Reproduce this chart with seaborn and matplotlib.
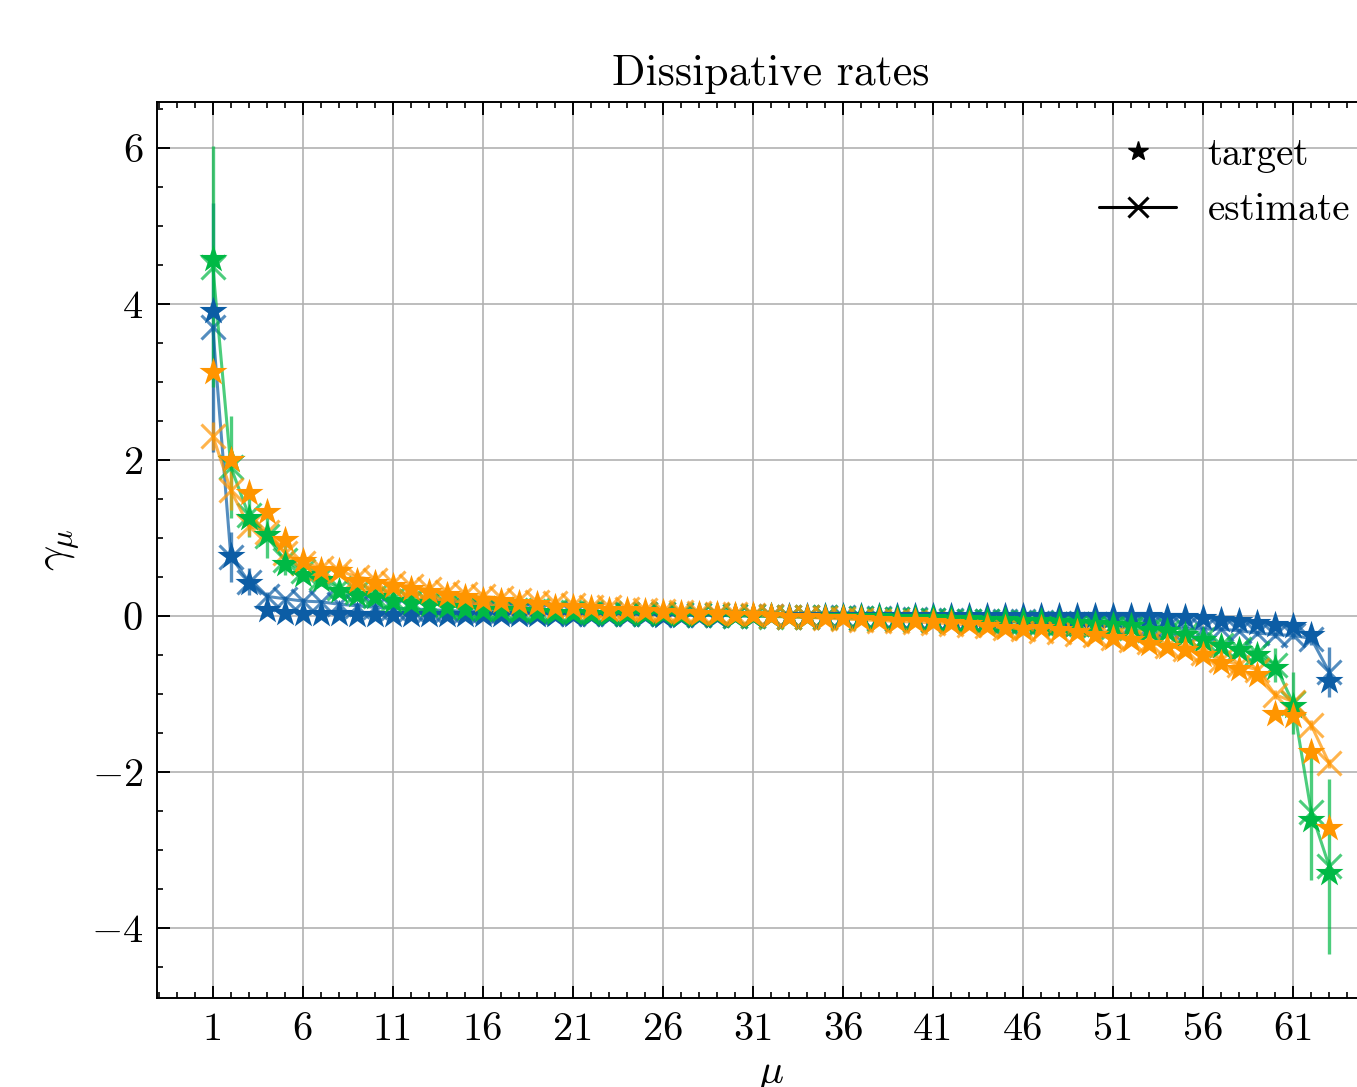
import matplotlib
matplotlib.use("Agg")
import matplotlib.pyplot as plt
import seaborn as sns
import pandas as pd
from matplotlib.lines import Line2D
from matplotlib.ticker import MultipleLocator, FixedLocator

mu = list(range(1, 64))
xtick_labels = [str(v) for v in range(1, 62, 5)]

blue_target = [3.91, 0.77, 0.42, 0.08, 0.04, 0.03, 0.02, 0.02, 0.01, 0.01,
               0.01, 0.01, 0.01, 0.01, 0.01, 0.01, 0.01, 0.01, 0.01, 0.01,
               0.01, 0.01, 0.01, 0.01, 0.01, 0.0, 0.0, 0.0, 0.0, 0.0,
               0.0, 0.0, 0.0, 0.0, 0.0, 0.0, 0.0, 0.0, 0.0, 0.0,
               0.0, 0.0, 0.0, 0.0, 0.0, 0.0, 0.0, 0.0, 0.0, 0.0,
               0.0, 0.0, 0.0, -0.01, -0.02, -0.03, -0.05, -0.07, -0.09, -0.12,
               -0.13, -0.25, -0.83]
blue_estimate = [3.70, 0.76, 0.44, 0.25, 0.22, 0.19, 0.18, 0.15, 0.13, 0.11,
                 0.10, 0.09, 0.08, 0.07, 0.06, 0.06, 0.05, 0.05, 0.04, 0.04,
                 0.03, 0.03, 0.03, 0.02, 0.02, 0.02, 0.01, 0.01, 0.01, 0.0,
                 0.0, 0.0, -0.01, -0.01, -0.02, -0.02, -0.03, -0.03, -0.04, -0.04,
                 -0.05, -0.05, -0.06, -0.06, -0.07, -0.07, -0.08, -0.09, -0.10, -0.11,
                 -0.12, -0.12, -0.13, -0.14, -0.16, -0.17, -0.17, -0.19, -0.22, -0.24,
                 -0.25, -0.29, -0.72]
blue_error = [1.6, 0.32, 0.17, 0.06, 0.04, 0.04, 0.03, 0.03, 0.03, 0.03,
              0.02, 0.02, 0.02, 0.02, 0.02, 0.02, 0.02, 0.02, 0.02, 0.02,
              0.02, 0.02, 0.02, 0.02, 0.02, 0.02, 0.02, 0.02, 0.02, 0.02,
              0.02, 0.02, 0.02, 0.02, 0.02, 0.02, 0.02, 0.02, 0.02, 0.02,
              0.02, 0.02, 0.02, 0.02, 0.02, 0.02, 0.02, 0.02, 0.02, 0.02,
              0.02, 0.02, 0.02, 0.02, 0.03, 0.03, 0.03, 0.03, 0.04, 0.04,
              0.05, 0.08, 0.32]

green_target = [4.58, 2.00, 1.26, 1.04, 0.66, 0.52, 0.46, 0.32, 0.27, 0.24,
                0.19, 0.16, 0.14, 0.11, 0.09, 0.08, 0.07, 0.06, 0.05, 0.04,
                0.04, 0.03, 0.03, 0.02, 0.02, 0.02, 0.01, 0.01, 0.01, 0.0,
                0.0, 0.0, -0.01, -0.01, -0.01, -0.02, -0.02, -0.02, -0.03, -0.03,
                -0.03, -0.04, -0.04, -0.05, -0.05, -0.06, -0.07, -0.08, -0.09, -0.10,
                -0.12, -0.13, -0.18, -0.20, -0.25, -0.31, -0.38, -0.44, -0.50, -0.67,
                -1.15, -2.62, -3.30]
green_estimate = [4.48, 1.91, 1.29, 1.02, 0.72, 0.57, 0.48, 0.36, 0.30, 0.26,
                  0.22, 0.19, 0.16, 0.14, 0.12, 0.10, 0.09, 0.08, 0.07, 0.06,
                  0.05, 0.05, 0.04, 0.03, 0.03, 0.02, 0.02, 0.01, 0.01, 0.0,
                  0.0, -0.01, -0.01, -0.02, -0.02, -0.03, -0.03, -0.04, -0.04, -0.05,
                  -0.05, -0.06, -0.06, -0.07, -0.08, -0.08, -0.09, -0.10, -0.11, -0.12,
                  -0.14, -0.16, -0.18, -0.21, -0.25, -0.30, -0.37, -0.42, -0.47, -0.63,
                  -1.12, -2.51, -3.21]
green_error = [1.55, 0.65, 0.28, 0.28, 0.20, 0.12, 0.10, 0.08, 0.06, 0.05,
               0.04, 0.04, 0.04, 0.03, 0.03, 0.03, 0.03, 0.03, 0.03, 0.03,
               0.03, 0.03, 0.03, 0.03, 0.03, 0.03, 0.03, 0.03, 0.03, 0.03,
               0.03, 0.03, 0.03, 0.03, 0.03, 0.03, 0.03, 0.03, 0.03, 0.03,
               0.03, 0.03, 0.03, 0.03, 0.03, 0.03, 0.03, 0.03, 0.03, 0.03,
               0.03, 0.04, 0.04, 0.04, 0.05, 0.05, 0.06, 0.08, 0.10, 0.22,
               0.40, 0.88, 1.12]

orange_target = [3.13, 2.00, 1.58, 1.33, 0.97, 0.71, 0.59, 0.57, 0.45, 0.42,
                 0.38, 0.34, 0.30, 0.27, 0.24, 0.21, 0.19, 0.17, 0.15, 0.12,
                 0.11, 0.10, 0.08, 0.07, 0.06, 0.05, 0.04, 0.03, 0.02, 0.01,
                 0.01, 0.0, -0.01, -0.02, -0.03, -0.03, -0.04, -0.05, -0.06, -0.07,
                 -0.08, -0.09, -0.11, -0.13, -0.15, -0.17, -0.16, -0.18, -0.21, -0.24,
                 -0.28, -0.31, -0.36, -0.40, -0.44, -0.50, -0.61, -0.68, -0.76, -1.26,
                 -1.29, -1.75, -2.72]
orange_estimate = [2.31, 1.61, 1.15, 1.08, 0.81, 0.68, 0.62, 0.58, 0.50, 0.46,
                   0.42, 0.38, 0.34, 0.31, 0.28, 0.25, 0.23, 0.20, 0.18, 0.16,
                   0.14, 0.12, 0.11, 0.09, 0.08, 0.06, 0.05, 0.04, 0.03, 0.02,
                   0.01, 0.0, -0.01, -0.02, -0.03, -0.04, -0.05, -0.06, -0.07, -0.08,
                   -0.09, -0.10, -0.12, -0.13, -0.15, -0.17, -0.19, -0.21, -0.23, -0.25,
                   -0.28, -0.31, -0.34, -0.38, -0.43, -0.48, -0.56, -0.63, -0.69, -1.01,
                   -1.10, -1.40, -1.89]
orange_error = [0.18, 0.25, 0.12, 0.10, 0.08, 0.06, 0.05, 0.05, 0.04, 0.04,
                0.04, 0.04, 0.03, 0.03, 0.03, 0.03, 0.03, 0.03, 0.03, 0.03,
                0.03, 0.03, 0.03, 0.03, 0.03, 0.03, 0.03, 0.03, 0.03, 0.03,
                0.03, 0.03, 0.03, 0.03, 0.03, 0.03, 0.03, 0.03, 0.03, 0.03,
                0.03, 0.03, 0.03, 0.03, 0.03, 0.03, 0.03, 0.03, 0.03, 0.03,
                0.03, 0.03, 0.03, 0.03, 0.04, 0.04, 0.04, 0.05, 0.05, 0.06,
                0.06, 0.06, 0.06]

series = [
    ("#0C5DA5", blue_target, blue_estimate, blue_error),
    ("#00B945", green_target, green_estimate, green_error),
    ("#FF9500", orange_target, orange_estimate, orange_error),
]

sns.set_style("ticks")
plt.rcParams.update({
    "font.family": "serif",
    "font.serif": ["cmr10"],
    "mathtext.fontset": "cm",
    "axes.formatter.use_mathtext": True,
    "axes.unicode_minus": True,
    "xtick.direction": "in",
    "ytick.direction": "in",
    "xtick.top": True,
    "ytick.right": True,
    "axes.edgecolor": "black",
    "axes.linewidth": 1.4,
    "xtick.color": "black",
    "ytick.color": "black",
    "text.color": "black",
    "axes.labelcolor": "black",
})

fig = plt.figure(figsize=(13.57, 10.87), dpi=100)
ax = fig.add_axes([157 / 1357, 89 / 1087, 1228 / 1357, 896 / 1087])
ax.grid(True, color="#b0b0b0", linewidth=1.3, alpha=0.9)
ax.set_axisbelow(True)

for color, tgt, est, err in series:
    df = pd.DataFrame({"mu": mu, "target": tgt, "estimate": est, "err": err})
    ax.errorbar(df["mu"], df["estimate"], yerr=df["err"], fmt="none",
                ecolor=color, elinewidth=2.4, alpha=0.7, capsize=0, zorder=2)
    sns.lineplot(data=df, x="mu", y="estimate", color=color, marker="x",
                 markersize=17, markeredgewidth=2.2, markeredgecolor=color,
                 linewidth=2.2, alpha=0.7, ax=ax, zorder=3)
    sns.scatterplot(data=df, x="mu", y="target", color=color, marker="*",
                    s=450, linewidth=0, ax=ax, zorder=4)

ax.set_xlim(-2.1, 66.1)
ax.set_ylim(-4.9, 6.59)
ax.xaxis.set_major_locator(FixedLocator(list(range(1, 62, 5))))
ax.set_xticklabels(xtick_labels)
ax.xaxis.set_minor_locator(MultipleLocator(1))
ax.yaxis.set_major_locator(MultipleLocator(2))
ax.yaxis.set_minor_locator(MultipleLocator(0.5))
ax.tick_params(which="major", length=9, width=1.4, labelsize=29, pad=10,
               labelcolor="black")
ax.tick_params(which="minor", length=4.5, width=1.2)
ax.tick_params(which="both", direction="in", top=True, right=True)

ax.set_title("Dissipative rates", fontsize=31.5, pad=12, color="black")
ax.set_xlabel(r"$\mu$", fontsize=30, labelpad=6)
ax.set_ylabel(r"$\gamma_\mu$", fontsize=32, labelpad=6)

handles = [
    Line2D([], [], color="black", marker="*", linestyle="none", markersize=15),
    Line2D([], [], color="black", marker="x", linestyle="-", markersize=15,
           markeredgewidth=2.2, linewidth=2.2),
]
leg = ax.legend(handles, ["target", "estimate"], loc="upper right", frameon=False,
                fontsize=28, handlelength=2.0)
for t in leg.get_texts():
    t.set_color("black")

fig.savefig("out.png", dpi=100)
